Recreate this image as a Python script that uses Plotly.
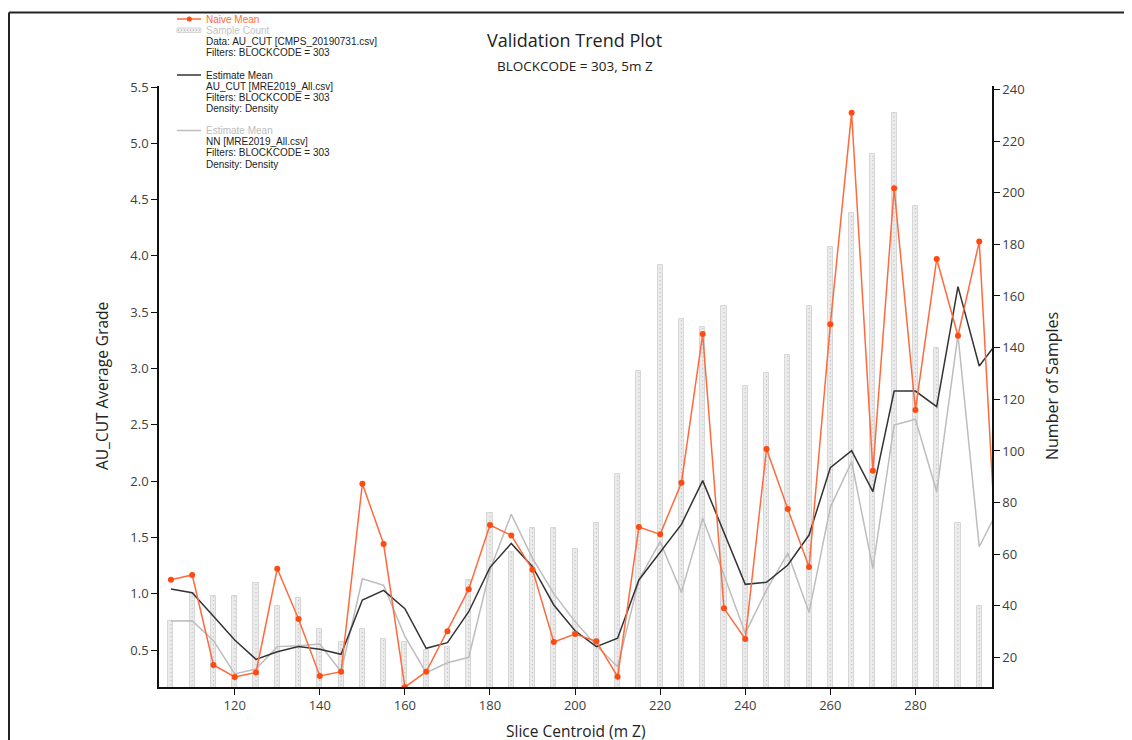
import plotly.graph_objects as go

# ---------------- data ----------------
slice_centroid = [105, 110, 115, 120, 125, 130, 135, 140, 145, 150,
                  155, 160, 165, 170, 175, 180, 185, 190, 195, 200,
                  205, 210, 215, 220, 225, 230, 235, 240, 245, 250,
                  255, 260, 265, 270, 275, 280, 285, 290, 295, 300]

naive_mean = [1.124, 1.166, 0.367, 0.260, 0.300, 1.222, 0.775, 0.269, 0.307, 1.977,
              1.441, 0.170, 0.307, 0.667, 1.040, 1.610, 1.518, 1.213, 0.571, 0.642,
              0.577, 0.263, 1.592, 1.527, 1.986, 3.306, 0.870, 0.598, 2.285, 1.752,
              1.237, 3.392, 5.272, 2.092, 4.600, 2.631, 3.972, 3.291, 4.127, 0.670]

estimate_mean_au = [1.042, 1.009, 0.800, 0.589, 0.417, 0.485, 0.530, 0.506, 0.462, 0.944,
                    1.030, 0.867, 0.515, 0.565, 0.840, 1.234, 1.447, 1.240, 0.900, 0.671,
                    0.530, 0.604, 1.122, 1.373, 1.616, 2.004, 1.536, 1.083, 1.101, 1.255,
                    1.521, 2.119, 2.270, 1.906, 2.800, 2.800, 2.661, 3.727, 3.022, 3.269]

estimate_mean_nn = [0.758, 0.760, 0.583, 0.287, 0.331, 0.530, 0.538, 0.553, 0.307, 1.133,
                    1.074, 0.620, 0.298, 0.387, 0.435, 1.210, 1.705, 1.314, 1.000, 0.752,
                    0.540, 0.352, 1.122, 1.462, 1.012, 1.670, 1.166, 0.648, 1.033, 1.359,
                    0.835, 1.767, 2.172, 1.226, 2.498, 2.549, 1.906, 3.298, 1.417, 1.790]

sample_count = [34, 45, 44, 44, 49, 40, 43, 31, 26, 31,
                27, 26, 23, 24, 50, 76, 61, 70, 70, 62,
                72, 91, 131, 172, 151, 148, 156, 125, 130, 137,
                156, 179, 192, 215, 231, 195, 140, 72, 40, None]

x_ticks = [120, 140, 160, 180, 200, 220, 240, 260, 280]
grade_ticks = [0.5, 1.0, 1.5, 2.0, 2.5, 3.0, 3.5, 4.0, 4.5, 5.0, 5.5]
count_ticks = [20, 40, 60, 80, 100, 120, 140, 160, 180, 200, 220, 240]

# ---------------- styles ----------------
ORANGE_LINE = "#ff6a3d"
ORANGE_MARK = "#ff4a10"
BLACK_LINE = "#333333"
GRAY_LINE = "#bdbdbd"
BAR_FILL = "#ebebeb"
BAR_EDGE = "#d6d6d6"
FONT = "Open Sans"
LEG_FONT = "Liberation Sans"

# page body has an 8px margin; figure is sized to fill the rest of the window
OFF = 8
W, H = 1132 - OFF, 740 - OFF
PLOT_L, PLOT_R, PLOT_T, PLOT_B = 159, 992, 86, 687   # screen pixels
L = PLOT_L - OFF
T = PLOT_T - OFF
PW, PH = PLOT_R - PLOT_L, PLOT_B - PLOT_T
R = W - L - PW
B = H - T - PH


def px(x):
    return (x - PLOT_L) / PW


def py(y):
    return (PLOT_B - y) / PH


fig = go.Figure()

# bars (counts, primary y on the right)
fig.add_trace(go.Bar(
    x=slice_centroid, y=sample_count, width=1.2,
    marker=dict(color=BAR_FILL, line=dict(color=BAR_EDGE, width=1)),
    yaxis="y", showlegend=False, hoverinfo="x+y"))

# dotted centre line inside each bar
dot_x, dot_y = [], []
for xv, cv in zip(slice_centroid, sample_count):
    if cv is None:
        continue
    dot_x += [xv, xv, None]
    dot_y += [0, cv, None]
fig.add_trace(go.Scatter(
    x=dot_x, y=dot_y, mode="lines", yaxis="y",
    line=dict(color="#b4b4b4", width=1, dash="1px,3px"),
    showlegend=False, hoverinfo="skip"))

# lines (grade, y2 on the left, drawn on top)
fig.add_trace(go.Scatter(
    x=slice_centroid, y=estimate_mean_nn, mode="lines", yaxis="y2",
    line=dict(color=GRAY_LINE, width=1.5), showlegend=False))
fig.add_trace(go.Scatter(
    x=slice_centroid, y=estimate_mean_au, mode="lines", yaxis="y2",
    line=dict(color=BLACK_LINE, width=1.5), showlegend=False))
fig.add_trace(go.Scatter(
    x=slice_centroid, y=naive_mean, mode="lines+markers", yaxis="y2",
    line=dict(color=ORANGE_LINE, width=1.5),
    marker=dict(color=ORANGE_MARK, size=6), showlegend=False))

axis_common = dict(showgrid=False, zeroline=False, showline=True,
                   linecolor="#111111", linewidth=1.5, ticks="outside",
                   ticklen=6, tickcolor="#111111", tickwidth=1,
                   tickfont=dict(family=FONT, size=13, color="#404040"))

fig.update_layout(
    width=W, height=H,
    margin=dict(l=L, r=R, t=T, b=B, pad=0),
    paper_bgcolor="white", plot_bgcolor="white",
    showlegend=False, bargap=0,
    xaxis=dict(range=[102.2, 298.0], tickvals=x_ticks, **axis_common),
    yaxis=dict(range=[8.6, 241.3], side="right", tickvals=count_ticks,
               **axis_common),
    yaxis2=dict(range=[0.1714, 5.509], side="left", overlaying="y",
                tickvals=grade_ticks, tickformat=".1f", **axis_common),
)

annotations = []


def add_text(x, y, text, size, color="#222222", family=FONT, xanchor="center",
             angle=0):
    annotations.append(dict(
        x=px(x), y=py(y), xref="paper", yref="paper", text=text,
        showarrow=False, xanchor=xanchor, yanchor="middle", textangle=angle,
        font=dict(family=family, size=size, color=color)))


# titles
add_text(574, 40, "Validation Trend Plot", 18, "#222222")
add_text(575, 66, "BLOCKCODE = 303, 5m Z", 13.5, "#222222")
add_text(575, 731, "Slice Centroid (m Z)", 15.5, "#222222")
add_text(102, 386, "AU_CUT Average Grade", 15.5, "#222222", angle=-90)
add_text(1052, 386, "Number of Samples", 16, "#222222", angle=-90)

# legend text
leg_x = 204
leg_lines = [
    (19, "Naive Mean", ORANGE_LINE),
    (30, "Sample Count", "#c4c4c4"),
    (41.5, "Data: AU_CUT [CMPS_20190731.csv]", "#222222"),
    (52.5, "Filters: BLOCKCODE = 303", "#222222"),
    (75, "Estimate Mean", "#222222"),
    (86, "AU_CUT [MRE2019_All.csv]", "#222222"),
    (97.5, "Filters: BLOCKCODE = 303", "#222222"),
    (108.5, "Density: Density", "#222222"),
    (130.5, "Estimate Mean", "#bdbdbd"),
    (141.5, "NN [MRE2019_All.csv]", "#222222"),
    (152.5, "Filters: BLOCKCODE = 303", "#222222"),
    (164, "Density: Density", "#222222"),
]
for yy, txt, col in leg_lines:
    add_text(leg_x, yy, txt, 10, col, family=LEG_FONT, xanchor="left")

fig.update_layout(annotations=annotations)

shapes = []
# frame around the figure (top and left edges visible)
shapes.append(dict(type="line", xref="paper", yref="paper",
                   x0=px(9), x1=px(1140), y0=py(12.5), y1=py(12.5),
                   line=dict(color="#222222", width=2)))
shapes.append(dict(type="line", xref="paper", yref="paper",
                   x0=px(9), x1=px(9), y0=py(12.5), y1=py(750),
                   line=dict(color="#222222", width=2)))
# legend glyphs
shapes.append(dict(type="line", xref="paper", yref="paper",
                   x0=px(177), x1=px(201), y0=py(19), y1=py(19),
                   line=dict(color=ORANGE_LINE, width=1.5)))
shapes.append(dict(type="circle", xref="paper", yref="paper",
                   x0=px(186.8), x1=px(191.8), y0=py(21.5), y1=py(16.5),
                   fillcolor=ORANGE_MARK, line=dict(color=ORANGE_MARK, width=0)))
shapes.append(dict(type="rect", xref="paper", yref="paper",
                   x0=px(177), x1=px(201), y0=py(32.5), y1=py(28),
                   fillcolor=BAR_FILL, line=dict(color=BAR_EDGE, width=1)))
shapes.append(dict(type="line", xref="paper", yref="paper",
                   x0=px(178), x1=px(200), y0=py(30.2), y1=py(30.2),
                   line=dict(color="#a8a8a8", width=1, dash="1px,2px")))
shapes.append(dict(type="line", xref="paper", yref="paper",
                   x0=px(177), x1=px(201), y0=py(75), y1=py(75),
                   line=dict(color=BLACK_LINE, width=1.5)))
shapes.append(dict(type="line", xref="paper", yref="paper",
                   x0=px(177), x1=px(201), y0=py(130.5), y1=py(130.5),
                   line=dict(color=GRAY_LINE, width=1.5)))
fig.update_layout(shapes=shapes)

fig.write_html("out.html")
